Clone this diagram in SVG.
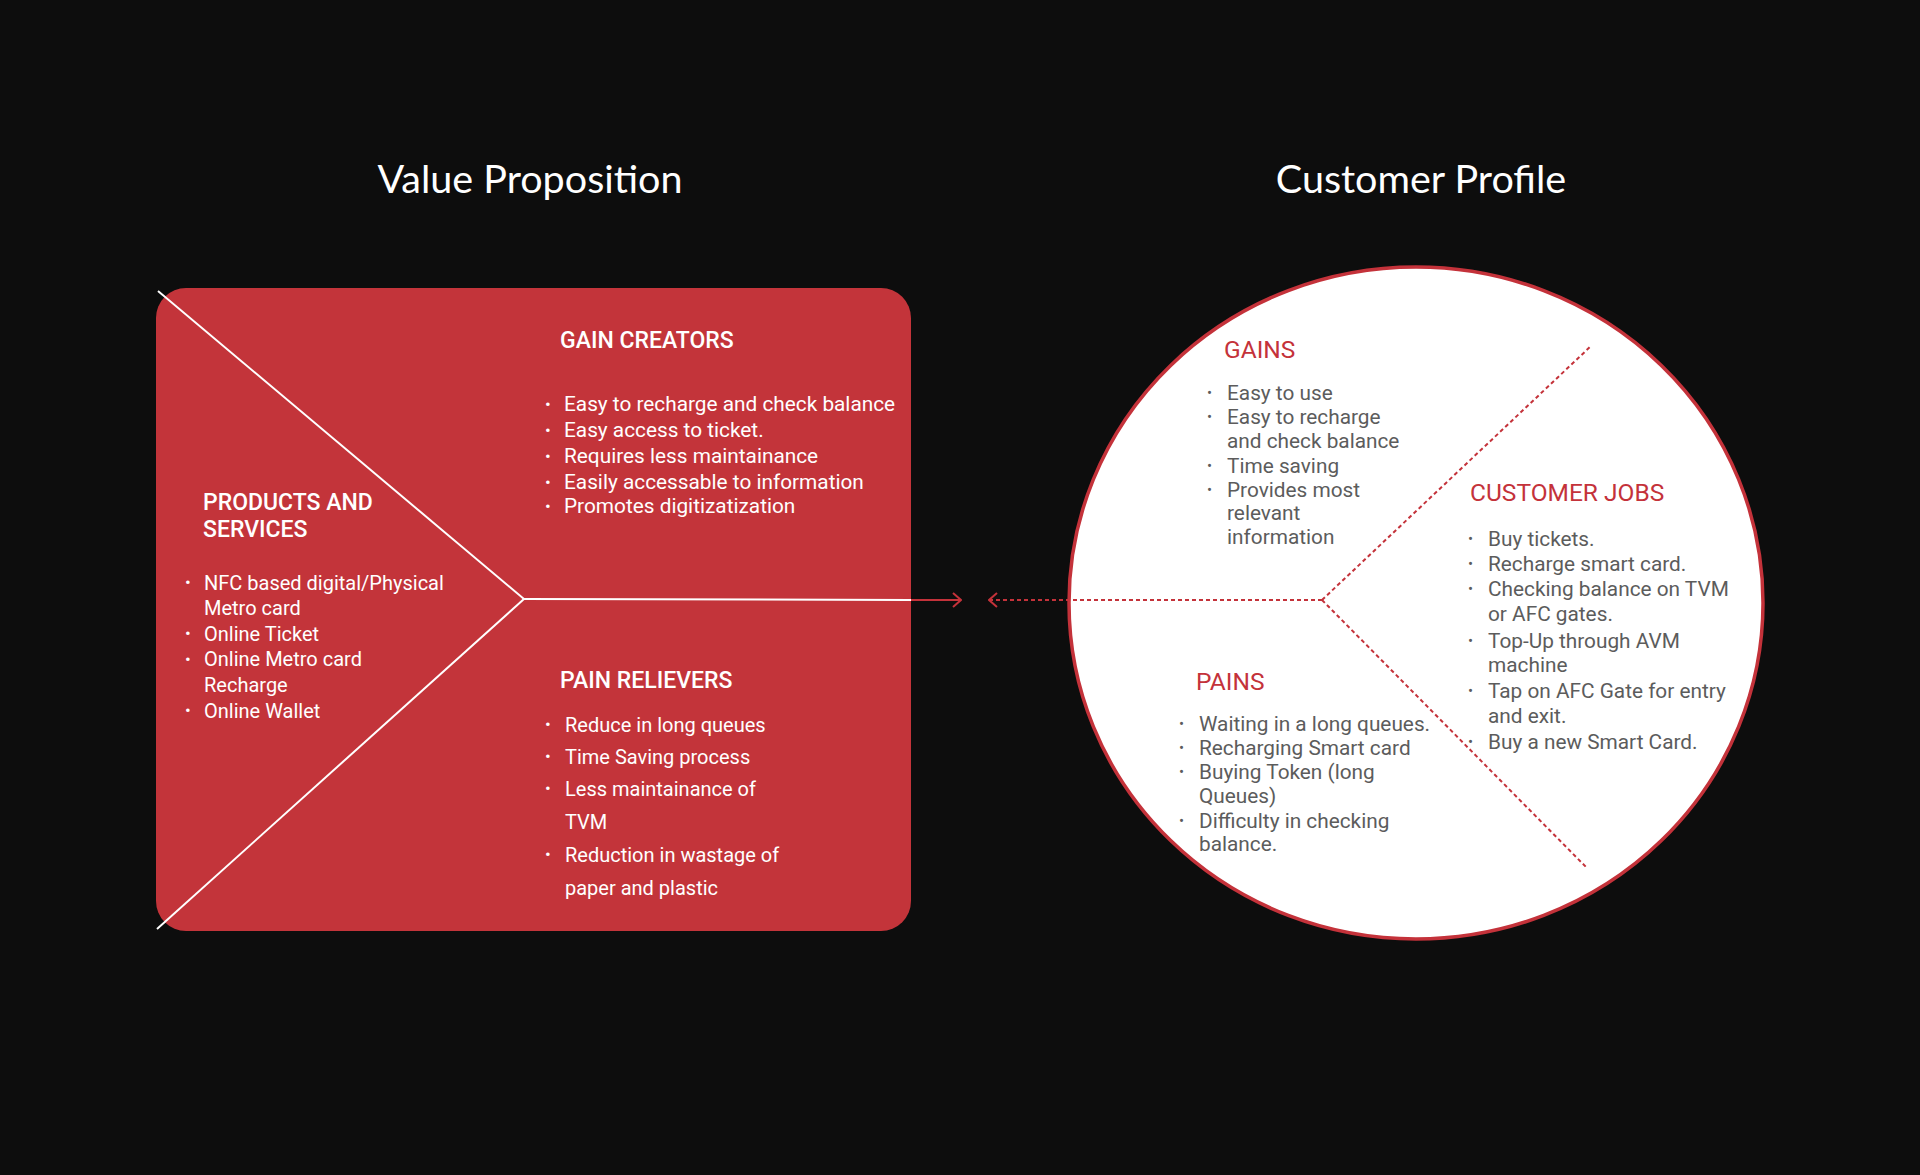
<svg xmlns="http://www.w3.org/2000/svg" width="1920" height="1175" viewBox="0 0 1920 1175">
<defs>
<style>
.bg{fill:#0d0d0d}
.title{font-family:Lato,"Open Sans","Liberation Sans",sans-serif;font-size:39.5px;fill:#ffffff;text-anchor:middle}
.vph{font-family:Roboto,"Liberation Sans",sans-serif;font-size:23px;font-weight:500;fill:#ffffff}
.vpt{font-family:Roboto,"Liberation Sans",sans-serif;font-size:20px;fill:#ffffff}
.gct{font-family:Roboto,"Liberation Sans",sans-serif;font-size:20.8px;fill:#ffffff}
.cph{font-family:Roboto,"Liberation Sans",sans-serif;font-size:24.5px;fill:#c4323a}
.cpt{font-family:Roboto,"Liberation Sans",sans-serif;font-size:20.8px;fill:#5c5c5c}
.bw{font-family:Roboto,"Liberation Sans",sans-serif;font-size:17px;fill:#ffffff}
.bg2{font-family:Roboto,"Liberation Sans",sans-serif;font-size:15px;fill:#5c5c5c}
.wline{stroke:#ffffff;stroke-width:2;fill:none}
.dash{stroke:#c4323a;stroke-width:2;stroke-dasharray:4 3;fill:none}
.rline{stroke:#c4323a;stroke-width:2;fill:none}
</style>
<marker id="chev" viewBox="0 0 10 16" refX="9" refY="8" markerWidth="10" markerHeight="16" markerUnits="userSpaceOnUse" orient="auto">
<path d="M1,1 L9,8 L1,15" fill="none" stroke="#c4323a" stroke-width="2"/>
</marker>
</defs>
<rect class="bg" x="0" y="0" width="1920" height="1175"/>

<g id="title-value-proposition"><text class="title" x="530" y="192.5">Value Proposition</text></g>
<g id="title-customer-profile"><text class="title" x="1421" y="192.5">Customer Profile</text></g>

<g id="value-proposition">
<rect x="156" y="288" width="755" height="643" rx="30" ry="30" fill="#c3343a"/>
<line class="wline" x1="158" y1="291" x2="524" y2="599"/>
<line class="wline" x1="524" y1="599" x2="157" y2="929"/>
<line class="wline" x1="524" y1="599" x2="911" y2="600"/>
</g>

<g id="gain-creators" transform="translate(0,1)">
<text class="vph" x="560" y="347">GAIN CREATORS</text>
<g class="bw"><text x="545" y="409">•</text><text x="545" y="435">•</text><text x="545" y="461">•</text><text x="545" y="487">•</text><text x="545" y="511">•</text></g>
<text class="gct" x="564" y="410">Easy to recharge and check balance</text>
<text class="gct" x="564" y="436">Easy access to ticket.</text>
<text class="gct" x="564" y="462">Requires less maintainance</text>
<text class="gct" x="564" y="488">Easily accessable to information</text>
<text class="gct" x="564" y="512">Promotes digitizatization</text>
</g>

<g id="products-and-services" transform="translate(0,1)">
<text class="vph" x="203" y="509">PRODUCTS AND</text>
<text class="vph" x="203" y="536">SERVICES</text>
<g class="bw"><text x="185" y="587">•</text><text x="185" y="638">•</text><text x="185" y="664">•</text><text x="185" y="715">•</text></g>
<text class="vpt" x="204" y="589">NFC based digital/Physical</text>
<text class="vpt" x="204" y="614">Metro card</text>
<text class="vpt" x="204" y="640">Online Ticket</text>
<text class="vpt" x="204" y="665">Online Metro card</text>
<text class="vpt" x="204" y="691">Recharge</text>
<text class="vpt" x="204" y="717">Online Wallet</text>
</g>

<g id="pain-relievers" transform="translate(0,1)">
<text class="vph" x="560" y="687">PAIN RELIEVERS</text>
<g class="bw"><text x="545" y="729">•</text><text x="545" y="761">•</text><text x="545" y="793">•</text><text x="545" y="859">•</text></g>
<text class="vpt" x="565" y="731">Reduce in long queues</text>
<text class="vpt" x="565" y="763">Time Saving process</text>
<text class="vpt" x="565" y="795">Less maintainance of</text>
<text class="vpt" x="565" y="828">TVM</text>
<text class="vpt" x="565" y="861">Reduction in wastage of</text>
<text class="vpt" x="565" y="894">paper and plastic</text>
</g>

<g id="customer-profile">
<ellipse cx="1416" cy="603" rx="347" ry="336" fill="#ffffff" stroke="#c4323a" stroke-width="3.5"/>
<line class="dash" x1="1322" y1="600" x2="1591" y2="346"/>
<line class="dash" x1="1322" y1="600" x2="1587" y2="868"/>
</g>

<g id="gains" transform="translate(0,1)">
<text class="cph" x="1224" y="357">GAINS</text>
<g class="bg2"><text x="1207" y="397">•</text><text x="1207" y="421">•</text><text x="1207" y="470">•</text><text x="1207" y="494">•</text></g>
<text class="cpt" x="1227" y="399">Easy to use</text>
<text class="cpt" x="1227" y="423">Easy to recharge</text>
<text class="cpt" x="1227" y="447">and check balance</text>
<text class="cpt" x="1227" y="472">Time saving</text>
<text class="cpt" x="1227" y="496">Provides most</text>
<text class="cpt" x="1227" y="519">relevant</text>
<text class="cpt" x="1227" y="543">information</text>
</g>

<g id="customer-jobs" transform="translate(0,1)">
<text class="cph" x="1470" y="500">CUSTOMER JOBS</text>
<g class="bg2"><text x="1468" y="543">•</text><text x="1468" y="568">•</text><text x="1468" y="593">•</text><text x="1468" y="645">•</text><text x="1468" y="695">•</text><text x="1468" y="746">•</text></g>
<text class="cpt" x="1488" y="545">Buy tickets.</text>
<text class="cpt" x="1488" y="570">Recharge smart card.</text>
<text class="cpt" x="1488" y="595">Checking balance on TVM</text>
<text class="cpt" x="1488" y="620">or AFC gates.</text>
<text class="cpt" x="1488" y="647">Top-Up through AVM</text>
<text class="cpt" x="1488" y="671">machine</text>
<text class="cpt" x="1488" y="697">Tap on AFC Gate for entry</text>
<text class="cpt" x="1488" y="722">and exit.</text>
<text class="cpt" x="1488" y="748">Buy a new Smart Card.</text>
</g>

<g id="pains" transform="translate(0,1)">
<text class="cph" x="1196" y="689">PAINS</text>
<g class="bg2"><text x="1179" y="728">•</text><text x="1179" y="752">•</text><text x="1179" y="776">•</text><text x="1179" y="825">•</text></g>
<text class="cpt" x="1199" y="730">Waiting in a long queues.</text>
<text class="cpt" x="1199" y="754">Recharging Smart card</text>
<text class="cpt" x="1199" y="778">Buying Token (long</text>
<text class="cpt" x="1199" y="802">Queues)</text>
<text class="cpt" x="1199" y="827">Difficulty in checking</text>
<text class="cpt" x="1199" y="850">balance.</text>
</g>

<g id="connectors">
<line class="rline" x1="911" y1="600" x2="961" y2="600" marker-end="url(#chev)"/>
<line class="dash" x1="1322" y1="600" x2="989" y2="600" marker-end="url(#chev)"/>
</g>
</svg>
